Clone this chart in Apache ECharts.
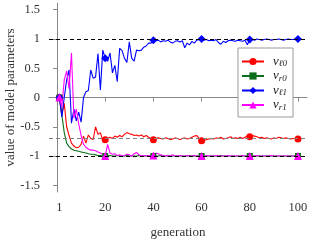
<!DOCTYPE html>
<html><head><meta charset="utf-8">
<script src="https://cdn.jsdelivr.net/npm/echarts@6/dist/echarts.min.js"></script>
<style>html,body{margin:0;padding:0;background:#fff}#c{width:312px;height:242px}</style>
</head><body><div id="c"></div>
<script>
const xTicks = [1, 20, 40, 60, 80, 100];
const yTicks = [-1.5, -1, -0.5, 0, 0.5, 1, 1.5];
const markerGens = [1, 20, 40, 60, 80, 100];
const refLines = [1, -1, -0.7];

const vl0 = [0, -0.3, -0.1, -0.5, -0.65, -0.78, -0.83, -0.86, -0.85, -0.8, -0.66, -0.78, -0.64, -0.7, -0.72, -0.5, -0.63, -0.6, -0.74, -0.72,
 -0.7, -0.68, -0.7, -0.66, -0.68, -0.65, -0.67, -0.63, -0.6, -0.62, -0.63, -0.65, -0.64, -0.66, -0.64, -0.67, -0.65, -0.68, -0.7, -0.72,
 -0.7, -0.69, -0.7, -0.71, -0.69, -0.7, -0.72, -0.71, -0.69, -0.7, -0.72, -0.7, -0.69, -0.71, -0.7, -0.68, -0.66, -0.65, -0.7, -0.74,
 -0.74, -0.72, -0.71, -0.7, -0.71, -0.69, -0.7, -0.68, -0.71, -0.7, -0.69, -0.67, -0.7, -0.69, -0.7, -0.68, -0.7, -0.68, -0.66, -0.67,
 -0.65, -0.66, -0.67, -0.69, -0.68, -0.7, -0.69, -0.7, -0.71, -0.69, -0.7, -0.68, -0.69, -0.7, -0.69, -0.7, -0.71, -0.7, -0.7, -0.71];

const vr0 = [0, -0.3, -0.6, -0.78, -0.84, -0.88, -0.9, -0.91, -0.92, -0.93, -0.94, -0.95, -0.96, -0.97, -0.97, -0.98, -0.99, -0.99, -1.0, -1.0,
 -1.0, -0.99, -1.0, -1.0, -0.99, -1.0, -1.0, -1.0, -0.99, -1.0, -1.0, -1.0, -1.0, -0.99, -1.0, -1.0, -1.0, -1.0, -1.0, -1.0,
 -1.0, -1.0, -0.99, -1.0, -1.0, -1.0, -1.0, -1.0, -1.0, -1.0, -1.0, -1.0, -1.0, -1.0, -0.99, -1.0, -1.0, -1.0, -1.0, -1.0,
 -1.0, -1.0, -1.0, -1.0, -1.0, -1.0, -1.0, -0.99, -1.0, -1.0, -1.0, -1.0, -1.0, -1.0, -1.0, -1.0, -1.0, -1.0, -1.0, -1.0,
 -1.0, -1.0, -1.0, -1.0, -1.0, -1.0, -1.0, -1.0, -1.0, -1.0, -1.0, -1.0, -1.0, -1.0, -1.0, -1.0, -1.0, -1.0, -1.0, -1.0];

const vl1 = [0, -0.33, 0.0, 0.3, 0.47, -0.44, -0.2, -0.4, -0.25, -0.42, 0.0, 0.1, 0.12, 0.47, 0.33, 0.35, 0.75, 0.13, 0.81, 0.67,
 0.62, 0.76, 0.42, 0.55, 0.27, 0.84, 0.8, 0.67, 0.6, 0.95, 0.67, 0.62, 0.81, 0.8, 0.81, 0.86, 0.88, 0.93, 0.93, 0.98,
 0.97, 0.98, 0.95, 0.97, 0.96, 0.98, 0.95, 0.93, 0.96, 0.97, 0.95, 0.97, 0.85, 0.93, 0.9, 0.96, 0.93, 0.98, 0.99, 1.0,
 0.98, 0.99, 0.97, 0.98, 0.97, 0.99, 0.94, 0.91, 0.96, 0.94, 0.97, 0.98, 0.97, 0.96, 0.98, 0.97, 0.96, 0.98, 0.9, 0.99,
 0.99, 0.98, 1.0, 0.99, 0.98, 0.99, 1.0, 0.99, 0.98, 0.99, 0.99, 1.0, 0.99, 0.98, 0.99, 1.0, 0.99, 0.99, 1.0, 1.0];

const vr1 = [0, -0.16, 0.3, 0.45, 0.15, 0.76, -0.35, -0.2, -0.45, -0.65, -0.8, -0.85, -0.88, -0.9, -0.9, -0.91, -0.93, -0.95, -0.97, -1.0,
 -0.8, -0.95, -0.97, -0.96, -0.99, -0.98, -1.0, -0.99, -0.97, -0.98, -1.0, -0.96, -0.94, -0.98, -1.0, -0.99, -1.0, -0.99, -1.0, -0.99,
 -0.95, -0.96, -0.98, -0.99, -1.0, -0.99, -1.0, -0.98, -1.0, -1.0, -0.99, -1.0, -1.0, -0.99, -1.0, -1.0, -0.99, -1.0, -1.0, -1.0,
 -1.0, -0.99, -1.0, -1.0, -1.0, -0.99, -1.0, -1.0, -1.0, -1.0, -0.99, -1.0, -1.0, -1.0, -1.0, -1.0, -0.99, -1.0, -1.0, -1.0,
 -1.0, -1.0, -0.99, -1.0, -1.0, -1.0, -1.0, -1.0, -0.99, -1.0, -1.0, -1.0, -1.0, -1.0, -1.0, -1.0, -1.0, -1.0, -1.0, -1.0];

const FONT = 'Liberation Serif';
const toPairs = arr => arr.map((v, i) => [i + 1, v]);
const symSize = s => (val, p) => markerGens.indexOf(p.dataIndex + 1) >= 0 ? s : 0;

const defs = [
  {name: 'vl0', sub: 'ℓ0', data: vl0, color: '#ff0000', symbol: 'circle', size: 7},
  {name: 'vr0', sub: 'r0', data: vr0, color: '#0b6e1a', symbol: 'rect', size: 6},
  {name: 'vl1', sub: 'ℓ1', data: vl1, color: '#0000ff', symbol: 'diamond', size: 8},
  {name: 'vr1', sub: 'r1', data: vr1, color: '#ff00ff', symbol: 'triangle', size: 8}
];
const subMap = {};
defs.forEach(d => subMap[d.name] = d.sub);

const series = [{
  type: 'line', data: [], silent: true, z: 1,
  markLine: {
    silent: true, symbol: 'none', label: {show: false}, animation: false,
    data: refLines.map(v => ({yAxis: v, lineStyle: {color: v === -0.7 ? '#808080' : '#000', type: [4, 3], width: 1}}))
  }
}].concat(defs.map(d => ({
  name: d.name, type: 'line', data: toPairs(d.data), z: 2,
  symbol: d.symbol, symbolSize: symSize(d.size), showAllSymbol: true,
  lineStyle: {color: d.color, width: 1.1}, itemStyle: {color: d.color},
  animation: false
})));

const chart = echarts.init(document.getElementById('c'), null, {renderer: 'canvas'});
chart.setOption({
  animation: false,
  grid: {left: 49, right: 5, top: 3, bottom: 50, containLabel: false, outerBoundsMode: 'none'},
  xAxis: {
    type: 'value', min: -3.33, max: 103.75,
    name: 'generation', nameLocation: 'middle', nameGap: 34, nameMoveOverlap: false,
    nameTextStyle: {fontFamily: FONT, fontSize: 13, color: '#333'},
    axisLine: {lineStyle: {color: '#888'}},
    axisTick: {customValues: xTicks, length: 4, lineStyle: {color: '#888'}},
    axisLabel: {customValues: xTicks, fontFamily: FONT, fontSize: 12.5, color: '#333', margin: 9},
    splitLine: {show: false}
  },
  yAxis: {
    type: 'value', min: -1.615, max: 1.615,
    name: 'value of model parameters', nameLocation: 'middle', nameGap: 32, nameRotate: 90, nameMoveOverlap: false,
    nameTextStyle: {fontFamily: FONT, fontSize: 13, color: '#333'},
    axisLine: {show: true, lineStyle: {color: '#888'}},
    axisTick: {show: true, customValues: yTicks, length: 4, lineStyle: {color: '#888'}},
    axisLabel: {customValues: yTicks, fontFamily: FONT, fontSize: 12.5, color: '#333', margin: 9},
    splitLine: {show: false}
  },
  legend: {
    orient: 'vertical', left: 238, top: 48,
    data: defs.map(d => d.name),
    backgroundColor: '#fff', borderColor: '#999', borderWidth: 1, borderRadius: 0,
    padding: [7, 6, 5, 3], itemGap: 1, itemWidth: 22, itemHeight: 9,
    formatter: n => '{v|v}{s|' + subMap[n] + '}',
    textStyle: {
      rich: {
        v: {fontFamily: FONT, fontStyle: 'italic', fontSize: 13, color: '#222', lineHeight: 14, verticalAlign: 'middle', padding: [0, 0, 0, 4]},
        s: {fontFamily: FONT, fontStyle: 'italic', fontSize: 9, color: '#222', lineHeight: 14, verticalAlign: 'bottom'}
      }
    }
  },
  series: series
});
</script></body></html>
